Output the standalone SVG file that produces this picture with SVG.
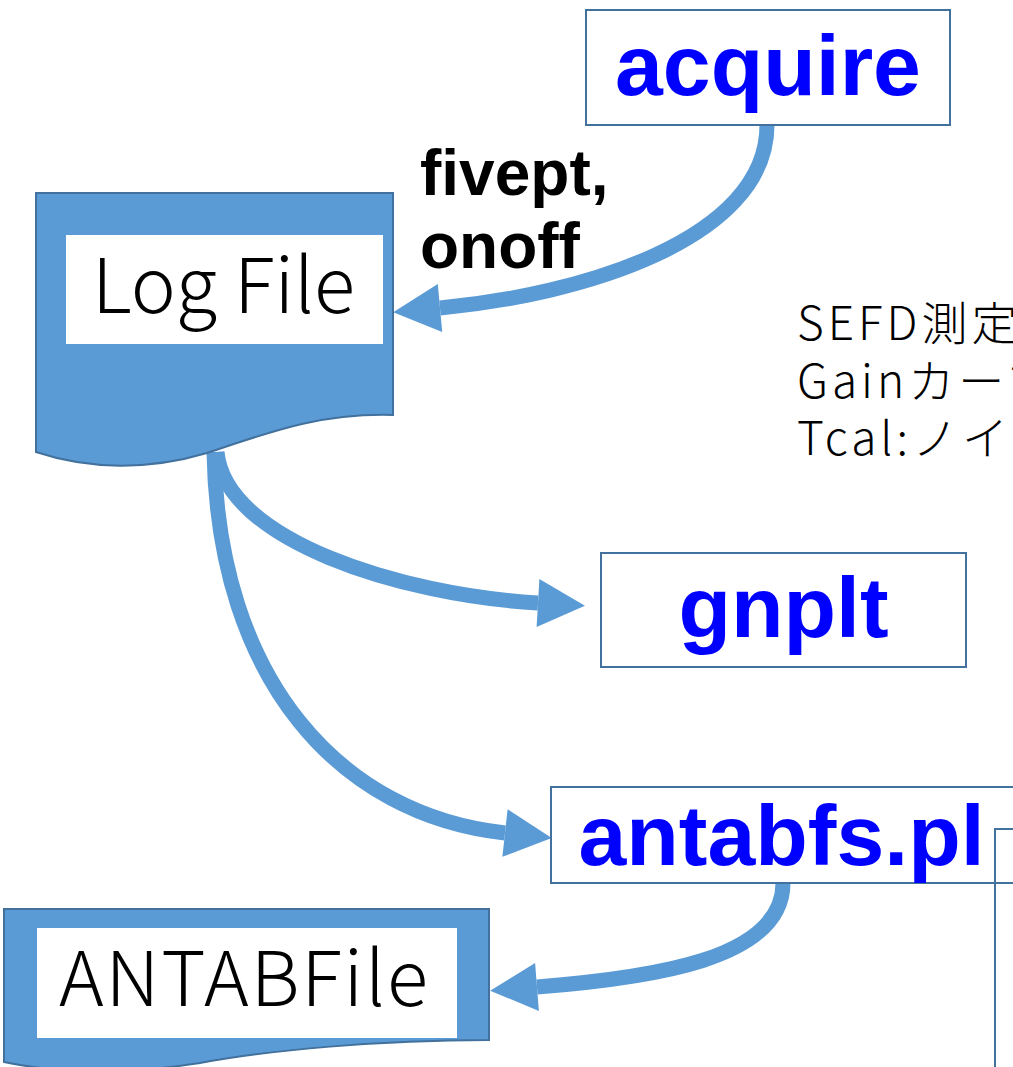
<svg xmlns="http://www.w3.org/2000/svg" width="1013" height="1067" viewBox="0 0 1013 1067">
  <style>
    .prog { fill: #ffffff; stroke: #41719C; stroke-width: 2; }
    .progtxt { font-family: "Liberation Sans", Arial, sans-serif; font-weight: bold; font-size: 86px; fill: #0000FF; text-anchor: middle; }
    .doc { fill: #5B9BD5; stroke: #41719C; stroke-width: 2; }
    .doclabel { fill: #ffffff; stroke: none; }
    .doctxt { font-family: "Noto Sans CJK JP", "Noto Sans", sans-serif; font-weight: 300; font-size: 76px; fill: #000000; }
    .flow { fill: none; stroke: #5B9BD5; stroke-width: 15; marker-end: url(#ah); }
    .label { font-family: "Liberation Sans", Arial, sans-serif; font-weight: bold; font-size: 64px; fill: #000000; }
    .note { font-family: "Noto Sans CJK JP", "Noto Sans", sans-serif; font-weight: 300; font-size: 46px; fill: #000000; letter-spacing: 4px; }
    .edge { fill: none; stroke: #41719C; stroke-width: 2; }
  </style>
  <defs>
    <marker id="ah" markerUnits="userSpaceOnUse" viewBox="0 -24 47 48" refX="0" refY="0" markerWidth="47" markerHeight="48" orient="auto" overflow="visible">
      <path d="M0,-24 L47,0 L0,24 Z" fill="#5B9BD5"/>
    </marker>
  </defs>

  <!-- flow arrows -->
  <g id="connectors">
    <path class="flow" d="M767,125 C767,240 580,295 440,308"/>
    <path class="flow" d="M217,452 C225,540 400,595 538,603"/>
    <path class="flow" d="M214,452 C218,680 340,815 505,833"/>
    <path class="flow" d="M783,883 C783,960 650,978 537,987"/>
  </g>

  <g id="node-acquire">
    <rect class="prog" x="586" y="10" width="364" height="115"/>
    <text class="progtxt" x="768" y="95">acquire</text>
  </g>

  <g id="label-fivept-onoff">
    <text class="label" x="420" y="195">fivept,</text>
    <text class="label" x="420" y="268">onoff</text>
  </g>

  <g id="node-logfile">
    <path class="doc" d="M36,193 H393 V415 C320,413 270,432 207,453 C150,470 90,470 36,452 Z"/>
    <rect class="doclabel" x="66" y="235" width="317" height="109"/>
    <text class="doctxt" x="92" y="313" textLength="263" lengthAdjust="spacing">Log File</text>
  </g>

  <g id="note-measurements">
    <text class="note" x="797" y="340">SEFD測定</text>
    <text class="note" x="797" y="398">Gainカーブ</text>
    <text class="note" x="797" y="455">Tcal:ノイズ</text>
  </g>

  <g id="node-gnplt">
    <rect class="prog" x="601" y="553" width="365" height="114"/>
    <text class="progtxt" x="783.5" y="637">gnplt</text>
  </g>

  <g id="node-antabfs">
    <rect class="prog" x="551" y="787" width="470" height="96"/>
    <text class="progtxt" x="781.5" y="865">antabfs.pl</text>
  </g>

  <g id="node-side-frame">
    <path class="edge" d="M1015,829 H995 V1070"/>
  </g>

  <g id="node-antabfile">
    <path class="doc" d="M4,909 H489 V1040 C380,1040 270,1050 200,1063 C130,1074 60,1074 4,1062 Z"/>
    <rect class="doclabel" x="37" y="928" width="420" height="110"/>
    <text class="doctxt" x="59" y="1006" textLength="369" lengthAdjust="spacing">ANTABFile</text>
  </g>
</svg>
